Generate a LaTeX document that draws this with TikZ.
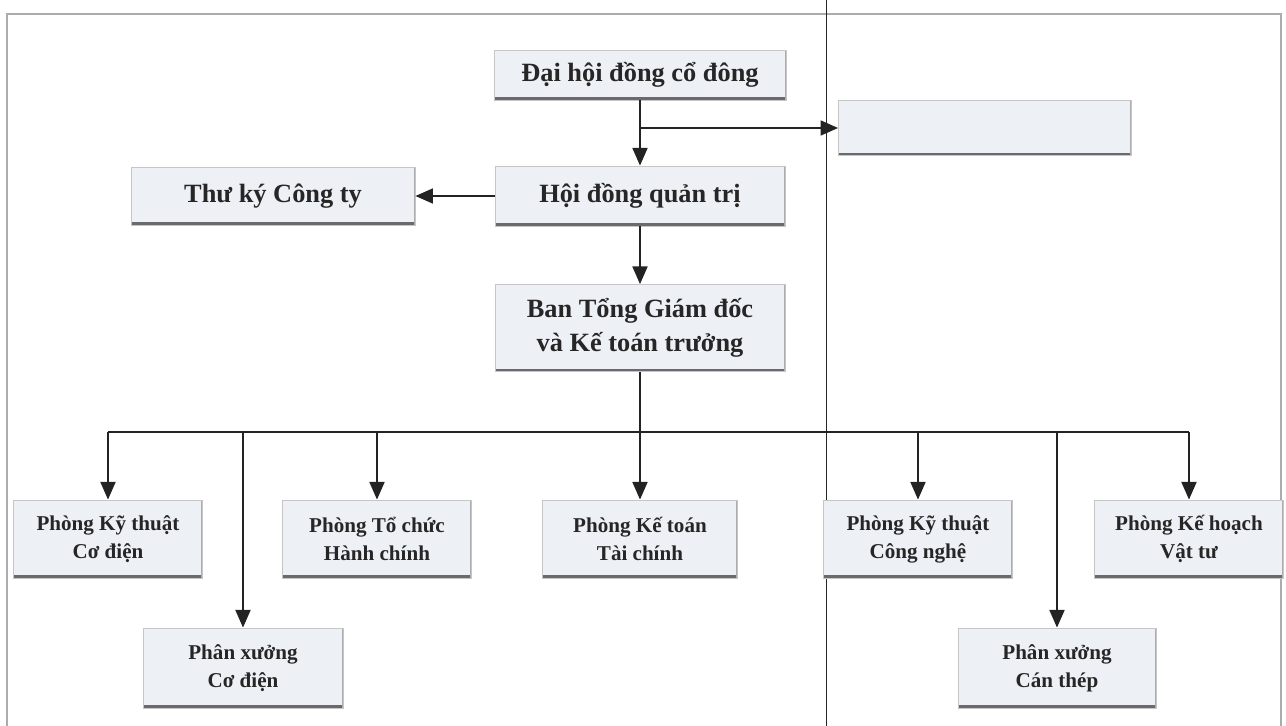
\documentclass[tikz,border=0pt]{standalone}
\usepackage{fontspec}
\setmainfont{Liberation Serif}
\usepackage{tikz}
\usetikzlibrary{arrows.meta}

\definecolor{boxFill}{RGB}{237,240,245}
\definecolor{boxEdge}{RGB}{105,105,110}
\definecolor{lineCol}{RGB}{35,35,35}

\begin{document}
\begin{tikzpicture}[x=0.02cm, y=-0.02cm, inner sep=2pt]
            \useasboundingbox (0,0) rectangle (1286,726);

            \tikzstyle{myBox}=[draw=gray!45, line width=0.5pt, fill=boxFill, align=center, text=black!85,
                path picture={\draw[boxEdge, line width=3pt] (path picture bounding box.south west) -- (path picture bounding box.south east);
                              \draw[gray!65, line width=1.6pt] (path picture bounding box.north east) -- (path picture bounding box.south east);}];
            \tikzstyle{bigBox}=[myBox, font=\fontsize{15}{19}\selectfont\bfseries];
            \tikzstyle{smallBox}=[myBox, minimum width=3.78cm, minimum height=1.56cm, font=\fontsize{12}{16}\selectfont\bfseries];
            \tikzstyle{myArr}=[lineCol, line width=1.1pt, -{Triangle[length=10pt,width=8.5pt]}];

            % frame and dividing line
            \draw[gray!65, line width=0.6pt] (7,726) -- (7,14) -- (1281,14) -- (1281,726);
            \draw[gray!30!black, line width=0.5pt] (826,0) -- (826,726);

            \node[bigBox, minimum width=5.84cm, minimum height=1cm] (dh) at (640,75) {Đại hội đồng cổ đông};
            \node[bigBox, minimum width=5.86cm, minimum height=1.1cm] (blank) at (985,128) {};
            \node[bigBox, minimum width=5.8cm, minimum height=1.2cm] (hd) at (640,196) {Hội đồng quản trị};
            \node[bigBox, minimum width=5.68cm, minimum height=1.16cm] (tk) at (273,196) {Thư ký Công ty};
            \node[bigBox, minimum width=5.8cm, minimum height=1.74cm] (ban) at (640,328) {Ban Tổng Giám đốc\\và Kế toán trưởng};

            \node[smallBox] (p1) at (108,539) {Phòng Kỹ thuật\\Cơ điện};
            \node[smallBox, minimum width=4cm, minimum height=1.6cm] (px1) at (243,668) {Phân xưởng\\Cơ điện};
            \node[smallBox] (p2) at (377,539) {Phòng Tổ chức\\Hành chính};
            \node[smallBox, minimum width=3.9cm] (p3) at (640,539) {Phòng Kế toán\\Tài chính};
            \node[smallBox] (p4) at (918,539) {Phòng Kỹ thuật\\Công nghệ};
            \node[smallBox, minimum width=3.96cm, minimum height=1.6cm] (px2) at (1057,668) {Phân xưởng\\Cán thép};
            \node[smallBox] (p5) at (1189,539) {Phòng Kế hoạch\\Vật tư};

            % top part
            \coordinate (br) at (640,128);
            \coordinate (bus) at (640,432);
            \draw[myArr] (dh) -- (hd);
            \draw[myArr] (br) -- (blank);
            \draw[myArr] (hd) -- (tk);
            \draw[myArr] (hd) -- (ban);

            % departments
            \draw[myArr] (ban) -- (p3);
            \draw[lineCol, line width=1.1pt] (bus -| p1) -- (bus -| p5);
            \draw[myArr] (bus -| p1) -- (p1);
            \draw[myArr] (bus -| px1) -- (px1);
            \draw[myArr] (bus -| p2) -- (p2);
            \draw[myArr] (bus -| p4) -- (p4);
            \draw[myArr] (bus -| px2) -- (px2);
            \draw[myArr] (bus -| p5) -- (p5);
         \end{tikzpicture}
\end{document}
